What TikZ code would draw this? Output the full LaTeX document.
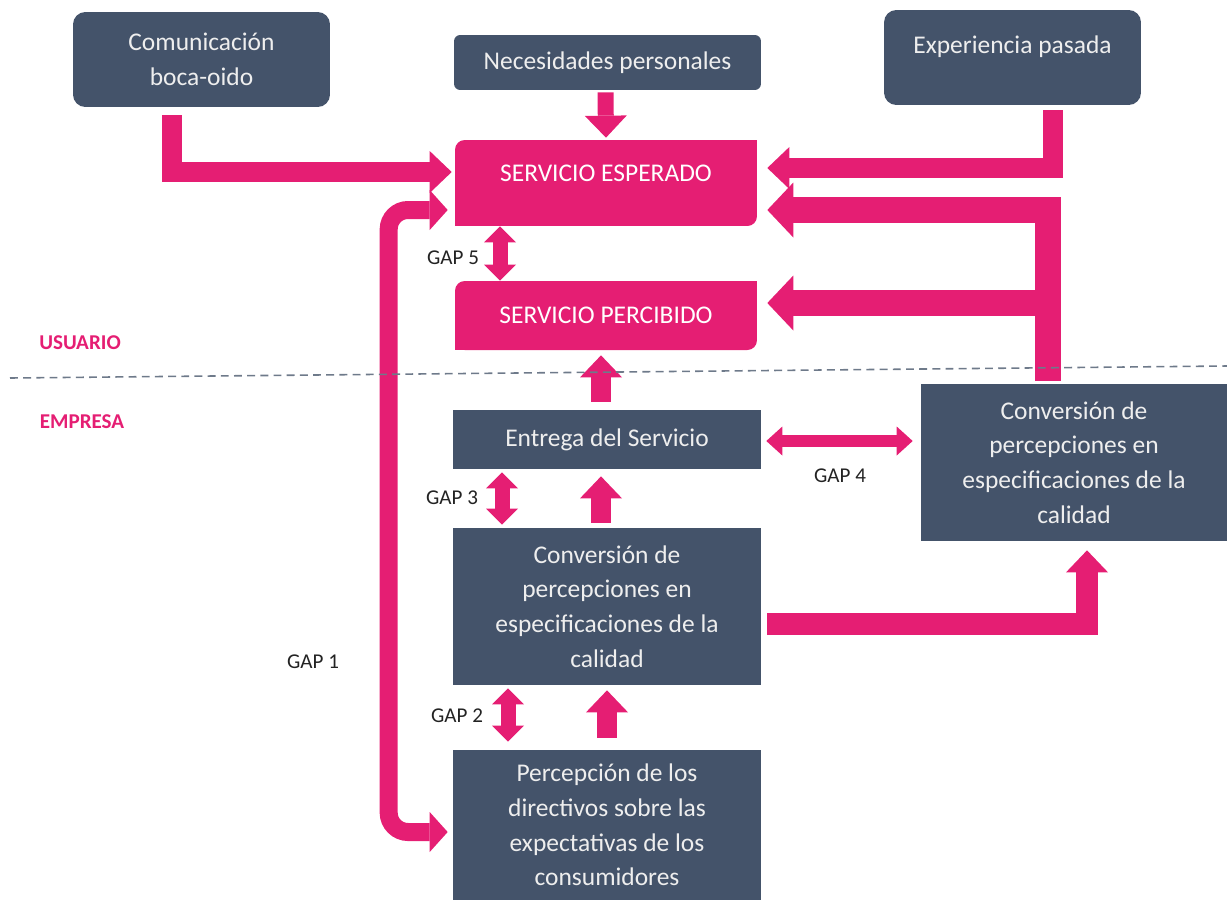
\documentclass[tikz,border=0pt]{standalone}
\usepackage{fontspec}
\setmainfont{Carlito}
\usetikzlibrary{arrows.meta,calc}
\definecolor{svpink}{RGB}{229,30,115}
\definecolor{svdark}{RGB}{68,83,106}
\definecolor{svtext}{RGB}{238,238,238}
\definecolor{svline}{RGB}{110,122,138}
\definecolor{svgap}{RGB}{35,35,35}
\tikzset{
  svbox/.style={align=center, inner sep=2pt, font=\fontsize{14.5}{19.8}\selectfont},
  darkbox/.style={svbox, fill=svdark, text=svtext},
  pinkbox/.style={svbox, fill=svpink, text=white, rounded corners=5.5pt},
  fatarr/.style={draw=svpink, line width=0.4cm,
    -{Triangle[width=0.84cm,length=0.44cm,line width=0pt]}},
  bigarr/.style={draw=svpink, line width=0.52cm,
    -{Triangle[width=1.1cm,length=0.52cm,line width=0pt]}},
  gaparr/.style={draw=svpink, line width=0.3cm,
    >={Triangle[width=0.64cm,length=0.32cm,line width=0pt]}, <->},
  thinarr/.style={draw=svpink, line width=0.24cm,
    >={Triangle[width=0.58cm,length=0.32cm,line width=0pt]}, <->},
  looparr/.style={draw=svpink, line width=0.36cm, rounded corners=11pt,
    >={Triangle[width=0.8cm,length=0.36cm,line width=0pt]}, <->},
  gaplbl/.style={font=\fontsize{12}{14}\selectfont, text=svgap},
  zone/.style={font=\bfseries\fontsize{12}{14}\selectfont, text=svpink},
  divider/.style={draw=svline, line width=0.9pt, dash pattern=on 4.5pt off 3pt}
}
\begin{document}
\begin{tikzpicture}[x=0.02cm,y=-0.02cm]
  \useasboundingbox (0,0) rectangle (1227,900);

  \node[darkbox, rounded corners=7pt, minimum width=5.14cm, minimum height=1.9cm] (boca) at (201.5,59.5) {Comunicación\\boca-oido};
  \node[darkbox, rounded corners=3.5pt, minimum width=6.14cm, minimum height=1.1cm] (necesidad) at (607.5,62.5) {Necesidades personales};
  \node[darkbox, rounded corners=7pt, minimum width=5.14cm, minimum height=1.9cm, text depth=0.53cm] (experiencia) at (1012.5,57.5) {Experiencia pasada};

  \node[pinkbox, minimum width=6.04cm, minimum height=1.72cm, text depth=0.4cm] (esperado) at (606,183) {SERVICIO ESPERADO};
  \node[pinkbox, minimum width=6.04cm, minimum height=1.38cm] (percibido) at (606,315.5) {SERVICIO PERCIBIDO};
  % esquinas rectas
  \fill[svpink] (esperado.north east) rectangle ++(-12,12);
  \fill[svpink] (esperado.south west) rectangle ++(12,-12);
  \fill[svpink] (percibido.north east) rectangle ++(-12,12);
  \fill[svpink] (percibido.south west) rectangle ++(12,-12);

  \node[darkbox, minimum width=6.16cm, minimum height=1.18cm] (entrega) at (607,439.5) {Entrega del Servicio};
  \node[darkbox, minimum width=6.16cm, minimum height=3.14cm] (conversion) at (607,606.5) {Conversión de\\percepciones en\\especificaciones de la\\calidad};
  \node[darkbox, minimum width=6.16cm, minimum height=3cm] (percepcion) at (607,825) {Percepción de los\\directivos sobre las\\expectativas de los\\consumidores};
  \node[darkbox, minimum width=6.12cm, minimum height=3.14cm] (especif) at (1074,462.5) {Conversión de\\percepciones en\\especificaciones de la\\calidad};

  \node[zone] (usuario) at (80,343) {USUARIO};
  \node[zone] (empresa) at (82,422) {EMPRESA};
  \node[gaplbl] (gapuno) at (313,662) {GAP 1};
  \node[gaplbl] (gapdos) at (457,716) {GAP 2};
  \node[gaplbl] (gaptres) at (452,498) {GAP 3};
  \node[gaplbl] (gapcuatro) at (840,476) {GAP 4};
  \node[gaplbl] (gapcinco) at (453,258) {GAP 5};

  \draw[fatarr] ($(boca.south)+(-30,8)$) |- ($(esperado.west)+(-3,-11)$);
  \draw[fatarr, line width=0.32cm] ($(necesidad.south)+(-2,2)$) -- ($(esperado.north)+(0,-2)$);
  \draw[fatarr] ($(experiencia.south)+(40,5)$) |- ($(esperado.east)+(10,-15)$);
  \draw[bigarr] ($(especif.north)+(-26,-3)$) |- ($(esperado.east)+(10,27)$);
  \draw[bigarr] ($(especif.north)+(-26,-3)$) |- ($(percibido.east)+(10,-12.5)$);

  \draw[gaparr] ($(esperado.south)+(-106,0)$) -- ($(percibido.north)+(-106,0)$);
  \draw[fatarr] ($(entrega.north)+(-6,-8)$) -- ($(percibido.south)+(-5,5)$);
  \draw[gaparr] ($(entrega.south)+(-105,3)$) -- ($(conversion.north)+(-105,-3)$);
  \draw[fatarr] ($(conversion.north)+(-6,-5)$) -- ($(entrega.south)+(-6,7)$);
  \draw[gaparr] ($(conversion.south)+(-99,3)$) -- ($(percepcion.north)+(-99,-8)$);
  \draw[fatarr] ($(percepcion.north)+(0,-12)$) -- ($(conversion.south)+(0,5)$);
  \draw[looparr] ($(percepcion.west)+(-5,7)$) -- ++(-59,0) |- ($(esperado.west)+(-7,27)$);
  \draw[thinarr] ($(entrega.east)+(5,1.5)$) -- ($(entrega.east -| especif.west)+(-8,1.5)$);
  \draw[fatarr, line width=0.44cm] ($(conversion.east)+(6,17.5)$) -| ($(especif.south)+(13,9)$);

  \draw[divider] (10,378) -- (1227,366);
\end{tikzpicture}
\end{document}
